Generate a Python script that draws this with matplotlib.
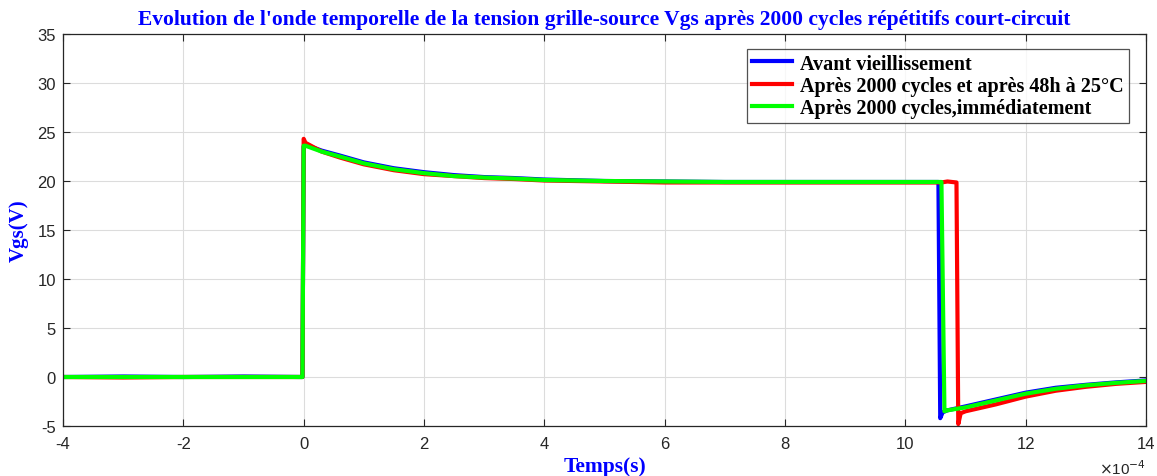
import matplotlib
matplotlib.use("Agg")
import matplotlib.pyplot as plt
from matplotlib.ticker import FuncFormatter

plt.rcParams["axes.unicode_minus"] = False

# time in units of 1e-4 s (scaled below)
t_blue = [-4, -3, -2, -1, -0.02, 0.0, 0.03, 0.3, 0.6, 1.0, 1.5, 2.0, 2.5, 3.0, 3.5, 4.0, 5.0, 6.0, 7.0, 8.0, 9.0, 10.0, 10.55,
          10.58, 10.62, 10.7, 11.0, 11.5, 12.0, 12.5, 13.0, 13.5, 14.0]
v_blue = [0.0, 0.05, 0.0, 0.05, 0.0, 23.5, 23.7, 23.1, 22.6, 21.9, 21.3, 20.9, 20.6, 20.4, 20.3, 20.15, 20.0, 19.95, 19.9, 19.9, 19.9, 19.9, 19.9,
          -4.2, -3.6, -3.4, -3.0, -2.3, -1.6, -1.1, -0.8, -0.55, -0.35]

t_red = [-4, -3, -2, -1, -0.02, 0.0, 0.03, 0.3, 0.6, 1.0, 1.5, 2.0, 2.5, 3.0, 3.5, 4.0, 5.0, 6.0, 7.0, 8.0, 9.0, 10.0, 10.6, 10.7, 10.85,
         10.88, 10.92, 11.0, 11.5, 12.0, 12.5, 13.0, 13.5, 14.0]
v_red = [0.0, -0.05, 0.0, 0.0, 0.0, 24.3, 23.9, 23.0, 22.4, 21.7, 21.1, 20.7, 20.5, 20.3, 20.2, 20.05, 19.95, 19.85, 19.85, 19.85, 19.85, 19.85, 19.85, 19.95, 19.85,
         -4.8, -3.7, -3.5, -2.8, -2.0, -1.4, -1.0, -0.7, -0.5]

t_green = [-4, -3, -2, -1, -0.02, 0.0, 0.03, 0.3, 0.6, 1.0, 1.5, 2.0, 2.5, 3.0, 3.5, 4.0, 5.0, 6.0, 7.0, 8.0, 9.0, 10.0, 10.6,
           10.65, 10.7, 11.0, 11.5, 12.0, 12.5, 13.0, 13.5, 14.0]
v_green = [0.0, 0.0, 0.0, 0.0, 0.0, 23.6, 23.6, 23.0, 22.5, 21.8, 21.2, 20.8, 20.5, 20.35, 20.25, 20.1, 20.0, 19.95, 19.9, 19.9, 19.9, 19.9, 19.9,
           -3.5, -3.4, -3.1, -2.4, -1.7, -1.2, -0.85, -0.6, -0.4]

labels = ["Avant vieillissement", "Après 2000 cycles et après 48h à 25°C", "Après 2000 cycles,immédiatement"]
colors = ["#0000ff", "#ff0000", "#00ff00"]

fig = plt.figure(figsize=(11.57, 4.77), dpi=100)
ax = fig.add_axes([63/1157, 1 - 427/477, (1146-63)/1157, (427-35)/477])

scale = 1e-4
for t, v, c, lab in [(t_blue, v_blue, colors[0], labels[0]),
                     (t_red, v_red, colors[1], labels[1]),
                     (t_green, v_green, colors[2], labels[2])]:
    ax.plot([x * scale for x in t], v, color=c, lw=3.0, label=lab)

ax.set_xlim(-4e-4, 14e-4)
ax.set_ylim(-5, 35)
ax.set_xticks([x * 1e-4 for x in range(-4, 15, 2)])
ax.set_yticks(range(-5, 36, 5))
ax.xaxis.set_major_formatter(FuncFormatter(lambda x, p: f"{x / scale:.0f}"))
ax.tick_params(direction="in", top=True, right=True, labelsize=12, length=5, width=0.8, colors="#262626")
ax.tick_params(axis="x", pad=7)
ax.tick_params(axis="y", pad=5)
for lab in ax.get_xticklabels() + ax.get_yticklabels():
    lab.set_family("Liberation Sans")
ax.text(1.0, -0.105, r"$\times$10$^{-4}$", transform=ax.transAxes, ha="right", va="center",
        fontsize=11, color="#262626", family="Liberation Sans")
ax.grid(True, color="#dcdcdc", lw=0.8)
ax.set_axisbelow(True)
for s in ax.spines.values():
    s.set_color("#262626")
    s.set_linewidth(0.9)

serif = "Liberation Serif"
ax.set_title("Evolution de l'onde temporelle de la tension grille-source Vgs après 2000 cycles répétitifs court-circuit",
             color="#0000ff", fontweight="bold", family=serif, fontsize=15.5, pad=7)
ax.set_xlabel("Temps(s)", color="#0000ff", fontweight="bold", family=serif, fontsize=15.5, labelpad=4)
ax.set_ylabel("Vgs(V)", color="#0000ff", fontweight="bold", family=serif, fontsize=15, labelpad=6)

leg = ax.legend(loc="upper right", bbox_to_anchor=(0.984, 0.963), prop={"family": serif, "weight": "bold", "size": 14.5},
                frameon=True, fancybox=False, edgecolor="#262626", handlelength=2.0, handletextpad=0.4,
                borderpad=0.25, labelspacing=0.1, borderaxespad=0)
leg.get_frame().set_linewidth(0.9)

fig.savefig("out.png", dpi=100)
